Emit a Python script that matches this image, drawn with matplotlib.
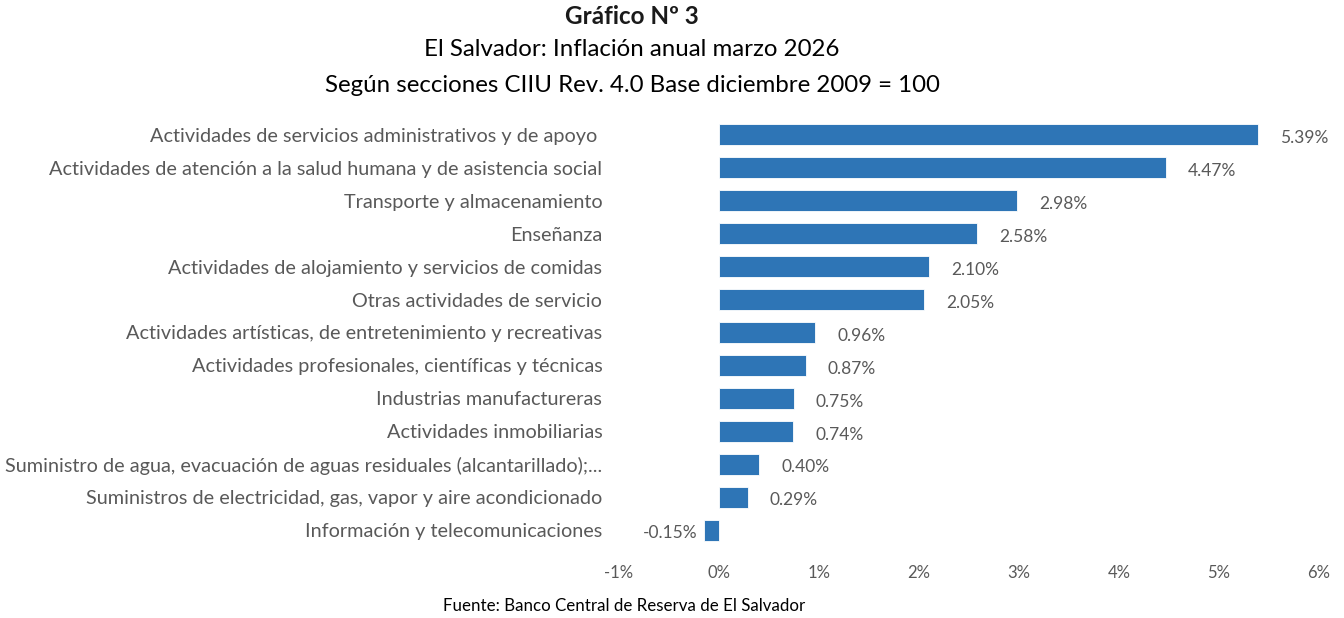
import numpy as np
import matplotlib.pyplot as plt

# datos
categorias = [
    'Actividades de servicios administrativos y de apoyo ',
    'Actividades de atención a la salud humana y de asistencia social',
    'Transporte y almacenamiento',
    'Enseñanza',
    'Actividades de alojamiento y servicios de comidas',
    'Otras actividades de servicio',
    'Actividades artísticas, de entretenimiento y recreativas',
    'Actividades profesionales, científicas y técnicas',
    'Industrias manufactureras',
    'Actividades inmobiliarias',
    'Suministro de agua, evacuación de aguas residuales (alcantarillado);...',
    'Suministros de electricidad, gas, vapor y aire acondicionado',
    'Información y telecomunicaciones',
]
inflacion = [5.39, 4.47, 2.98, 2.58, 2.10, 2.05, 0.96, 0.87, 0.75, 0.74, 0.40, 0.29, -0.15]
ticks_x = [-1, 0, 1, 2, 3, 4, 5, 6]

plt.rcParams['font.family'] = ['Lato', 'DejaVu Sans']
gris = '#595959'
azul = '#2E75B6'

fig = plt.figure(figsize=(13.44, 6.18), dpi=100)
ax = fig.add_axes([619 / 1344, 1 - 546.5 / 618, 700 / 1344, 428 / 618])

y = np.arange(len(categorias))
ax.barh(y, inflacion, height=0.64, color=azul, edgecolor='white', linewidth=0.6)
ax.set_ylim(len(categorias) - 0.5, -0.5)
ax.set_xlim(-1, 6)
ax.set_yticks(y)
ax.set_yticklabels(categorias, fontsize=14.3, color=gris)
ax.set_xticks(ticks_x)
ax.set_xticklabels([f'{t}%' for t in ticks_x], fontsize=12, color=gris)
ax.tick_params(axis='both', length=0)
ax.tick_params(axis='y', pad=12)
ax.tick_params(axis='x', pad=13)
for s in ax.spines.values():
    s.set_visible(False)

for yi, v in zip(y, inflacion):
    if v >= 0:
        ax.text(v + 0.22, yi + 0.1, f'{v:.2f}%', va='center', ha='left', fontsize=12.5, color=gris)
    else:
        ax.text(v - 0.07, yi + 0.1, f'{v:.2f}%', va='center', ha='right', fontsize=12.5, color=gris)

cx = 632 / 1344
fig.text(cx, 1 - 17 / 618, 'Gráfico Nº 3', ha='center', va='center', fontsize=17.5, fontweight='bold', color='#1a1a1a')
fig.text(cx, 1 - 50 / 618, 'El Salvador: Inflación anual marzo 2026', ha='center', va='center', fontsize=17.3, color='black')
fig.text(cx, 1 - 85 / 618, 'Según secciones CIIU Rev. 4.0 Base diciembre 2009 = 100', ha='center', va='center', fontsize=17.3, color='black')
fig.text(624 / 1344, 1 - 606 / 618, 'Fuente: Banco Central de Reserva de El Salvador', ha='center', va='center', fontsize=12.2, color='black')

fig.savefig('out.png', dpi=100)
